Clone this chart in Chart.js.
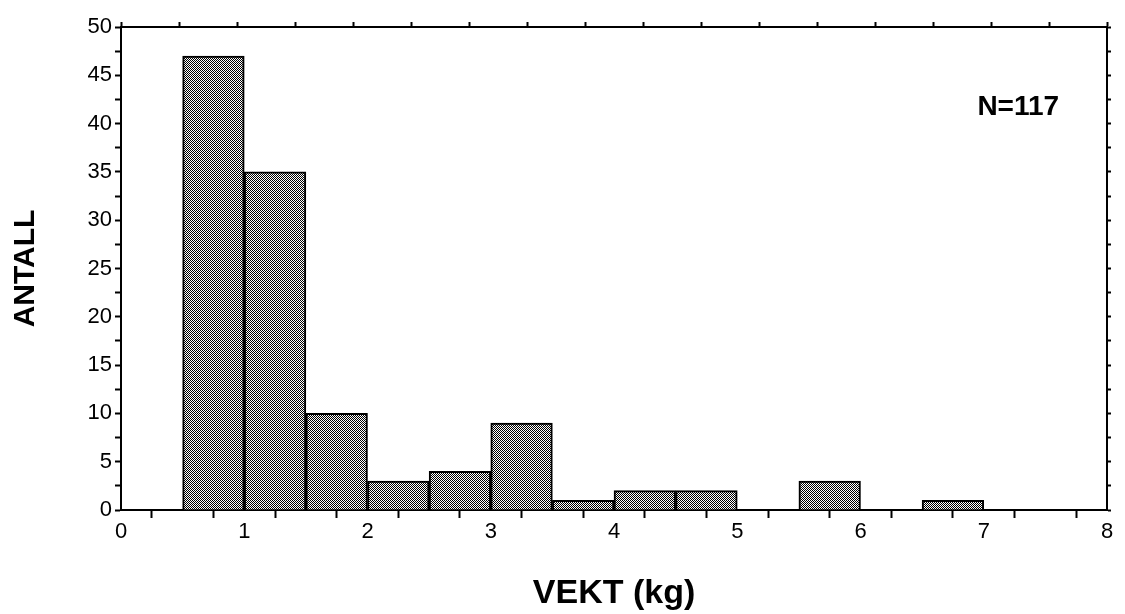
<!DOCTYPE html>
<html>
<head>
<meta charset="utf-8">
<script src="https://cdn.jsdelivr.net/npm/chart.js@4.4.0/dist/chart.umd.min.js"></script>
<style>
  html, body { margin: 0; background: #fff; }
</style>
</head>
<body>
<canvas id="histo" width="1125" height="614"></canvas>
<script>
// bin centres (kg), each bin is 0.5 kg wide
const binMids = [0.75, 1.25, 1.75, 2.25, 2.75, 3.25, 3.75, 4.25, 4.75, 5.25, 5.75, 6.25, 6.75];
const counts  = [47, 35, 10, 3, 4, 9, 1, 2, 2, 0, 3, 0, 1];
const noteText = 'N=117';
const noteAt = [7.28, 41.7];

function stipple() {
    const c = document.createElement('canvas');
    c.width = 4; c.height = 4;
    const g = c.getContext('2d');
    g.fillStyle = '#fff';
    g.fillRect(0, 0, 4, 4);
    g.fillStyle = '#000';
    for (let y = 0; y < 4; y++) {
        for (let x = 0; x < 4; x++) {
            if ((x + y) % 2 === 0) g.fillRect(x, y, 1, 1);
        }
    }
    return g.createPattern(c, 'repeat');
}

const noteLabel = {
    id: 'noteLabel',
    afterDraw(chart) {
        const ctx = chart.ctx;
        ctx.save();
        ctx.font = 'bold 28px "Liberation Sans", Arial, sans-serif';
        ctx.fillStyle = '#000';
        ctx.textAlign = 'center';
        ctx.textBaseline = 'middle';
        ctx.fillText(noteText, chart.scales.x.getPixelForValue(noteAt[0]), chart.scales.y.getPixelForValue(noteAt[1]));
        ctx.restore();
    }
};

const tickFont = { family: '"Liberation Sans", Arial, sans-serif', size: 22 };
const edge = { color: '#000', width: 2 };

const ctx = document.getElementById('histo').getContext('2d');
new Chart(ctx, {
    type: 'bar',
    data: {
        datasets: [{
            data: binMids.map((m, i) => ({ x: m, y: counts[i] })),
            backgroundColor: stipple(),
            borderColor: '#000',
            borderWidth: 2,
            barPercentage: 1,
            categoryPercentage: 1
        }]
    },
    options: {
        responsive: false,
        animation: false,
        layout: { padding: 0 },
        plugins: { legend: { display: false }, tooltip: { enabled: false } },
        scales: {
            x: {
                type: 'linear', position: 'bottom', min: 0, max: 8, offset: false,
                ticks: {
                    stepSize: 0.5, autoSkip: false, maxRotation: 0,
                    color: '#000', font: tickFont, padding: 1,
                    callback: v => Number.isInteger(v) ? v : ''
                },
                grid: { drawOnChartArea: false, tickLength: 8, tickColor: '#000', tickWidth: 2 },
                border: edge,
                title: {
                    display: true, text: 'VEKT (kg)', color: '#000',
                    font: { family: '"Liberation Sans", Arial, sans-serif', size: 34, weight: 'bold' },
                    padding: { top: 18, bottom: 0 }
                },
                afterFit: s => { s.height = 104; }
            },
            x2: {
                type: 'linear', position: 'top', min: 0, max: 8,
                ticks: { stepSize: 0.5, display: false },
                grid: { drawOnChartArea: false, tickLength: 5, tickColor: '#000', tickWidth: 2 },
                border: edge,
                afterFit: s => { s.height = 27; }
            },
            y: {
                type: 'linear', position: 'left', min: 0, max: 50,
                ticks: {
                    stepSize: 2.5, autoSkip: false, color: '#000', font: tickFont, padding: 3,
                    callback: v => v % 5 === 0 ? v : ''
                },
                grid: { drawOnChartArea: false, tickLength: 6, tickColor: '#000', tickWidth: 2 },
                border: edge,
                title: {
                    display: true, text: 'ANTALL', color: '#000',
                    font: { family: '"Liberation Sans", Arial, sans-serif', size: 30, weight: 'bold' },
                    padding: { top: 8, bottom: 0 }
                },
                afterFit: s => { s.width = 121; }
            },
            y2: {
                type: 'linear', position: 'right', min: 0, max: 50,
                ticks: { stepSize: 2.5, display: false },
                grid: { drawOnChartArea: false, tickLength: 4, tickColor: '#000', tickWidth: 2 },
                border: edge,
                afterFit: s => { s.width = 18; }
            }
        }
    },
    plugins: [noteLabel]
});
</script>
</body>
</html>
